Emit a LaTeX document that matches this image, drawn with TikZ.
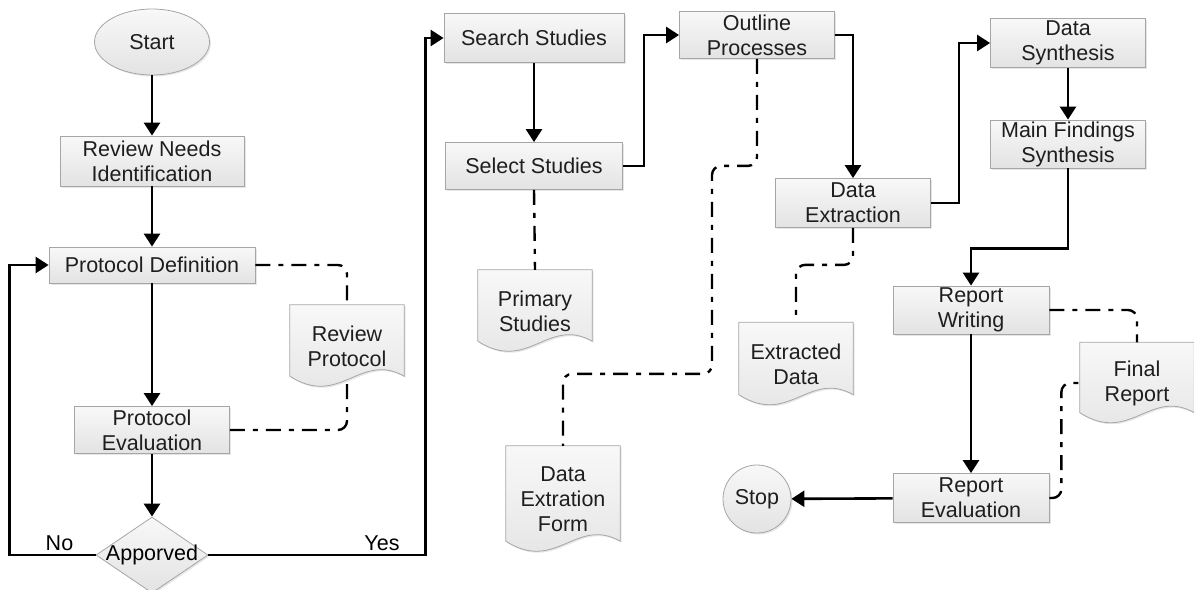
\documentclass[tikz,border=0pt]{standalone}
\usepackage{fontspec}
\setmainfont{Liberation Sans}
\usetikzlibrary{arrows.meta, shapes.geometric, shadows, backgrounds}
\definecolor{boxline}{HTML}{A6A6A6}
\definecolor{boxtop}{HTML}{F8F8F8}
\definecolor{boxbot}{HTML}{E3E3E3}
\definecolor{txt}{HTML}{1E1E1E}
\tikzset{
  box/.style={
    draw=boxline,
    line width=0.8pt,
    top color=boxtop,
    bottom color=boxbot,
    text=txt,
    align=center,
    inner sep=1pt,
    drop shadow={shadow xshift=1.5pt, shadow yshift=-1.5pt, opacity=0.2}
  },
  process/.style={
    box,
    rectangle,
    minimum width=155pt,
    minimum height=48pt
  },
  terminal/.style={
    box,
    ellipse
  },
  decision/.style={
    box,
    diamond,
    minimum width=112pt,
    minimum height=76pt,
    inner sep=0pt
  },
  docbox/.style={
    rectangle,
    minimum width=114pt,
    text=txt,
    align=center
  },
  flow/.style={
    -{Triangle[length=13pt, width=16pt]},
    line width=2.6pt
  },
  assoc/.style={
    line width=2.4pt,
    dash pattern=on 15pt off 8pt on 5pt off 8pt,
    rounded corners=9pt
  }
}

\begin{document}
\begin{tikzpicture}[x=1pt, y=-1pt, font=\fontsize{21.5pt}{25pt}\selectfont]
  \useasboundingbox (0,0) rectangle (1194,589);

  % Planning
  \node[terminal, minimum width=115pt, minimum height=66pt] (start) at (152,42) {Start};
  \node[process, minimum width=184pt, minimum height=50pt] (revneed) at (152,161) {Review Needs\\Identification};
  \node[process, minimum width=206pt, minimum height=36pt] (protdef) at (152,265) {Protocol Definition};
  \node[process, minimum height=47pt] (proteval) at (152,430) {Protocol\\Evaluation};
  \node[decision, label={center:Apporved}] (approved) at (152,555) {};
  \node[docbox, minimum height=82pt] (revprot) at (347,346) {Review\\Protocol};

  % Conducting
  \node[process, minimum width=180pt, minimum height=49pt] (searchst) at (534,38) {Search Studies};
  \node[process, minimum width=177pt, minimum height=47pt] (selectst) at (534,166) {Select Studies};
  \node[process, minimum height=47pt] (outline) at (757,35) {Outline\\Processes};
  \node[process, minimum height=49pt] (dataext) at (853,203) {Data\\Extraction};
  \node[process, minimum height=49pt] (datasyn) at (1068,43) {Data\\Synthesis};
  \node[process] (mainfind) at (1068,144) {Main Findings\\Synthesis};
  \node[docbox, minimum height=82pt] (primstud) at (535,311) {Primary\\Studies};
  \node[docbox, minimum height=106pt] (extform) at (563,499) {Data\\Extration\\Form};
  \node[docbox, minimum height=83pt] (extdata) at (796,364) {Extracted\\Data};

  % Reporting
  \node[process, minimum width=156pt] (repwrite) at (971,310) {Report\\Writing};
  \node[process, minimum width=156pt, minimum height=49pt] (repeval) at (971,498) {Report\\Evaluation};
  \node[box, circle, minimum size=68pt, inner sep=0pt] (stop) at (757,499) {Stop};
  \node[docbox, minimum height=81pt] (finrep) at (1137,383) {Final\\Report};

  % Document outlines
  \begin{scope}[on background layer]
    \foreach \d in {revprot, primstud, extform, extdata, finrep}
      \draw[box] (\d.north west) -- (\d.north east) -- ([yshift=11pt]\d.south east)
        .. controls +(-44,-25) and +(50,32) .. ([yshift=11pt]\d.south west) -- cycle;
  \end{scope}

  % Flow
  \draw[flow] (start) -- (revneed);
  \draw[flow] (revneed) -- (protdef);
  \draw[flow] (protdef) -- (proteval);
  \draw[flow] (proteval) -- (approved);
  \draw[flow] (approved.west) -- node[above, pos=0.42] {No} ++(-86,0) |- (protdef.west);
  \draw[flow] (approved.east) -- node[above, pos=0.8] {Yes} ++(217,0) |- (searchst.west);
  \draw[flow] (searchst) -- (selectst);
  \draw[flow] (selectst.east) -- ++(21,0) |- (outline.west);
  \draw[flow] (outline.east) -| (dataext.north);
  \draw[flow] (dataext.east) -- ++(28,0) |- (datasyn.west);
  \draw[flow] (datasyn) -- (mainfind);
  \draw[flow] (mainfind.south) -- ++(0,80) -| (repwrite.north);
  \draw[flow] (repwrite) -- (repeval);
  \draw[flow] (repeval) -- (stop);

  % Documents produced
  \draw[assoc] (protdef.east) -| (revprot.north);
  \draw[assoc] (proteval.east) -| ([yshift=8pt]revprot.south);
  \draw[assoc] (selectst.south) -- (primstud.north);
  \draw[assoc] (outline.south) -- ++(0,107) -- ++(-45,0) -- ++(0,208) -| (extform.north);
  \draw[assoc] (dataext.south) -- ++(0,37) -| (extdata.north);
  \draw[assoc] (repwrite.east) -| (finrep.north);
  \draw[assoc] (repeval.east) -- ++(12,0) |- (finrep.west);

\end{tikzpicture}
\end{document}
